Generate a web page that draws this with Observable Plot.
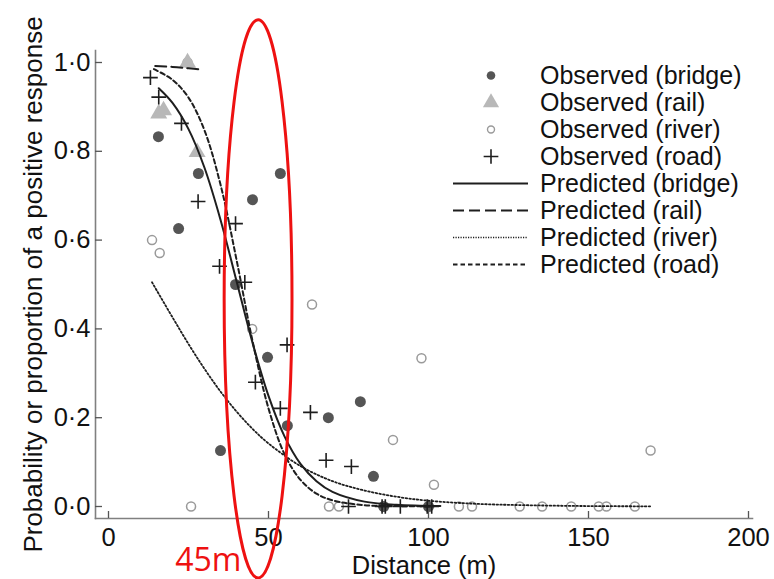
<!DOCTYPE html>
<html>
<head>
<meta charset="utf-8">
<script src="https://cdn.jsdelivr.net/npm/d3@7"></script>
<script src="https://cdn.jsdelivr.net/npm/@observablehq/plot@0.6"></script>
<style>
  html, body { margin: 0; padding: 0; background: #fff; }
  svg { display: block; }
</style>
</head>
<body>
<div id="chart"></div>
<script>
// ---------- observed data ----------
const bridgeX = [15.6, 21.9, 28.1, 35.0, 39.7, 45.0, 49.7, 53.7, 55.9, 68.7, 78.7, 82.8, 86.0, 100.0];
const bridgeY = [0.833, 0.626, 0.750, 0.126, 0.500, 0.691, 0.336, 0.750, 0.182, 0.200, 0.236, 0.068, 0.0, 0.0];

const railX = [15.7, 17.2, 24.7, 27.7];
const railY = [0.885, 0.892, 1.0, 0.798];

const riverX = [13.6, 16.0, 24.7, 25.8, 44.9, 63.6, 68.9, 72.0, 88.9, 97.8, 101.7, 109.5, 113.6, 128.5, 135.5, 144.6, 153.2, 155.6, 164.5, 169.4];
const riverY = [0.600, 0.571, 1.0, 0.0, 0.400, 0.455, 0.0, 0.0, 0.150, 0.334, 0.049, 0.0, 0.0, 0.0, 0.0, 0.0, 0.0, 0.0, 0.0, 0.126];

const roadX = [13.1, 15.7, 22.8, 28.0, 34.7, 39.7, 42.6, 45.9, 53.7, 55.8, 63.1, 68.0, 75.9, 75.0, 85.5, 86.5, 91.2, 99.6, 101.0];
const roadY = [0.966, 0.922, 0.863, 0.687, 0.541, 0.637, 0.505, 0.280, 0.221, 0.364, 0.212, 0.104, 0.090, 0.0, 0.0, 0.0, 0.0, 0.0, 0.0];

// ---------- predicted curves ----------
const bridgePredX = [15.7, 20, 25, 30, 35, 40, 45, 50, 55, 60, 65, 70, 80, 90, 103.7];
const bridgePredY = [0.942, 0.909, 0.850, 0.763, 0.646, 0.508, 0.369, 0.249, 0.158, 0.096, 0.057, 0.033, 0.011, 0.004, 0.001];

const railPredX = [14.6, 20, 25, 29.3];
const railPredY = [0.992, 0.990, 0.987, 0.984];

const riverPredX = [13.6, 20, 25, 30, 35, 40, 45, 50, 60, 70, 80, 90, 100, 115, 130, 150, 169.9];
const riverPredY = [0.505, 0.426, 0.366, 0.310, 0.259, 0.214, 0.175, 0.142, 0.091, 0.057, 0.036, 0.022, 0.013, 0.006, 0.003, 0.001, 0.0004];

const roadPredX = [14.2, 20, 25, 30, 35, 40, 45, 50, 55, 60, 65, 70, 80, 90, 101];
const roadPredY = [0.985, 0.961, 0.921, 0.847, 0.725, 0.556, 0.373, 0.221, 0.118, 0.060, 0.029, 0.014, 0.003, 0.001, 0.0001];

// ---------- axes / text ----------
const xTicks = [0, 50, 100, 150, 200];
const xTickLabels = ["0", "50", "100", "150", "200"];
const yTicks = [0, 0.2, 0.4, 0.6, 0.8, 1.0];
const yTickLabels = ["0·0", "0·2", "0·4", "0·6", "0·8", "1·0"];
const xTitle = "Distance (m)";
const yTitle = "Probability or proportion of a positive response";
const legendLabels = [
  "Observed (bridge)", "Observed (rail)", "Observed (river)", "Observed (road)",
  "Predicted (bridge)", "Predicted (rail)", "Predicted (river)", "Predicted (road)"
];

// ---------- hand-drawn annotation (red ellipse + label) ----------
const annotationLabel = "45m";
const annotationXRange = [36.3, 57.5];   // distance (m)
const annotationYRange = [-0.162, 1.095]; // probability
const annotationLabelAt = [21, -0.146];

// ---------- build tables ----------
const zip = (xs, ys) => xs.map((x, i) => ({x, y: ys[i]}));
const bridge = zip(bridgeX, bridgeY);
const rail = zip(railX, railY);
const river = zip(riverX, riverY);
const road = zip(roadX, roadY);
const bridgePred = zip(bridgePredX, bridgePredY);
const railPred = zip(railPredX, railPredY);
const riverPred = zip(riverPredX, riverPredY);
const roadPred = zip(roadPredX, roadPredY);

const FONT = "'Liberation Sans', Arial, Helvetica, sans-serif";
const W = 774, H = 579;
const mL = 95, mT = 50, mB = 61, mR = 22;
const frameW = W - mL - mR, frameH = H - mT - mB;
const axisGray = "#808080";

const styles = {
  bridgeDot: {fill: "#555555", r: 5.5},
  railDot: {fill: "#b8b8b8", r: 6.3},
  riverDot: {stroke: "#9a9a9a", r: 4.5, sw: 1.5},
  roadDot: {stroke: "#1e1e1e", r: 4.8, sw: 1.6},
  bridgeLine: {dash: null, sw: 2},
  railLine: {dash: "11,5", sw: 2},
  riverLine: {dash: "1.6,2.2", sw: 1.8},
  roadLine: {dash: "4.5,3", sw: 2}
};
const lineColor = "#1e1e1e";

function legendMark(index, scales, values, dimensions) {
  const g = d3.create("svg:g").attr("font-family", FONT).attr("font-size", 25)
    .attr("fill", "#111").attr("text-anchor", "start");
  const lineX1 = 453, lineX2 = 528, symX = 491, textX = 540, row0 = 75.5, step = 27;
  legendLabels.forEach((lab, i) => {
    const y = row0 + i * step;
    if (i === 0) g.append("circle").attr("cx", symX).attr("cy", y).attr("r", 4.3).attr("fill", styles.bridgeDot.fill);
    if (i === 1) g.append("path").attr("transform", `translate(${symX},${y})`)
        .attr("d", d3.symbol(d3.symbolTriangle, Math.PI * 6 * 6)()).attr("fill", styles.railDot.fill);
    if (i === 2) g.append("circle").attr("cx", symX).attr("cy", y).attr("r", 3.5).attr("fill", "none")
        .attr("stroke", styles.riverDot.stroke).attr("stroke-width", 1.4);
    if (i === 3) g.append("path").attr("transform", `translate(${symX},${y})`)
        .attr("d", d3.symbol(d3.symbolPlus, Math.PI * 4.8 * 4.8)()).attr("fill", "none")
        .attr("stroke", styles.roadDot.stroke).attr("stroke-width", 1.6);
    if (i >= 4) {
      const st = [styles.bridgeLine, styles.railLine, styles.riverLine, styles.roadLine][i - 4];
      const ln = g.append("line").attr("x1", lineX1).attr("x2", lineX2).attr("y1", y).attr("y2", y)
        .attr("stroke", lineColor).attr("stroke-width", i === 6 ? 1.4 : st.sw);
      if (st.dash) ln.attr("stroke-dasharray", i === 6 ? "1.2,1.3" : st.dash);
    }
    g.append("text").attr("x", textX).attr("y", y).attr("dy", "0.35em").text(lab);
  });
  return g.node();
}

function annotationMark(index, scales) {
  const g = d3.create("svg:g");
  const x1 = scales.x(annotationXRange[0]), x2 = scales.x(annotationXRange[1]);
  const y1 = scales.y(annotationYRange[1]), y2 = scales.y(annotationYRange[0]);
  g.append("ellipse")
    .attr("cx", (x1 + x2) / 2).attr("cy", (y1 + y2) / 2)
    .attr("rx", (x2 - x1) / 2).attr("ry", (y2 - y1) / 2)
    .attr("fill", "none").attr("stroke", "#ee1111").attr("stroke-width", 3);
  g.append("text")
    .attr("x", scales.x(annotationLabelAt[0])).attr("y", scales.y(annotationLabelAt[1]))
    .attr("text-anchor", "start")
    .attr("font-family", "'Open Sans', 'Noto Sans', sans-serif").attr("font-size", 32)
    .attr("fill", "#ee1111").text(annotationLabel);
  return g.node();
}

const chart = Plot.plot({
  width: W,
  height: H,
  marginLeft: mL, marginTop: mT, marginBottom: mB, marginRight: mR,
  style: {fontFamily: FONT, background: "#ffffff", color: "#111", overflow: "visible"},
  x: {domain: [0, 200], range: [108, 748]},
  y: {domain: [0, 1], range: [506, 62]},
  marks: [
    // axis lines (L-shaped box)
    Plot.frame({anchor: "left", stroke: axisGray, strokeWidth: 1.6}),
    Plot.frame({anchor: "bottom", stroke: axisGray, strokeWidth: 1.6}),
    // inward ticks
    Plot.ruleY(yTicks, {y: d => d, insetRight: frameW - 7, stroke: "#555", strokeWidth: 1.3}),
    Plot.ruleX(xTicks, {x: d => d, insetTop: frameH - 7, stroke: "#555", strokeWidth: 1.3}),
    // tick labels
    Plot.axisY({ticks: yTicks, tickSize: 0, tickPadding: 5, label: null, fontSize: 25.5,
      tickFormat: d => yTickLabels[yTicks.findIndex(t => Math.abs(t - d) < 1e-9)]}),
    Plot.axisX({ticks: xTicks, tickSize: 0, tickPadding: 9, label: null, fontSize: 25.5,
      tickFormat: d => xTickLabels[xTicks.indexOf(d)]}),
    // axis titles
    Plot.text([xTitle], {text: d => d, frameAnchor: "bottom", dy: 47, lineAnchor: "middle", textAnchor: "middle", fontSize: 25.5, fill: "#111"}),
    Plot.text([yTitle], {text: d => d, frameAnchor: "left", rotate: -90, dx: -62, textAnchor: "middle", lineAnchor: "middle", fontSize: 26, fill: "#111"}),
    // observed points
    Plot.dot(river, {x: "x", y: "y", r: styles.riverDot.r, fill: "none", stroke: styles.riverDot.stroke, strokeWidth: styles.riverDot.sw}),
    Plot.dot(rail, {x: "x", y: "y", symbol: "triangle", r: styles.railDot.r, fill: styles.railDot.fill, stroke: "none"}),
    Plot.dot(bridge, {x: "x", y: "y", r: styles.bridgeDot.r, fill: styles.bridgeDot.fill, stroke: "none"}),
    // predicted curves
    Plot.line(riverPred, {x: "x", y: "y", stroke: lineColor, strokeWidth: styles.riverLine.sw, strokeDasharray: styles.riverLine.dash, curve: "catmull-rom"}),
    Plot.line(roadPred, {x: "x", y: "y", stroke: lineColor, strokeWidth: styles.roadLine.sw, strokeDasharray: styles.roadLine.dash, curve: "catmull-rom"}),
    Plot.line(railPred, {x: "x", y: "y", stroke: lineColor, strokeWidth: styles.railLine.sw, strokeDasharray: styles.railLine.dash, curve: "catmull-rom"}),
    Plot.line(bridgePred, {x: "x", y: "y", stroke: lineColor, strokeWidth: styles.bridgeLine.sw, curve: "catmull-rom"}),
    Plot.dot(road, {x: "x", y: "y", symbol: "plus", r: styles.roadDot.r, fill: "none", stroke: styles.roadDot.stroke, strokeWidth: styles.roadDot.sw}),
    // legend + annotation
    legendMark,
    annotationMark
  ]
});
document.getElementById("chart").appendChild(chart);
</script>
</body>
</html>
